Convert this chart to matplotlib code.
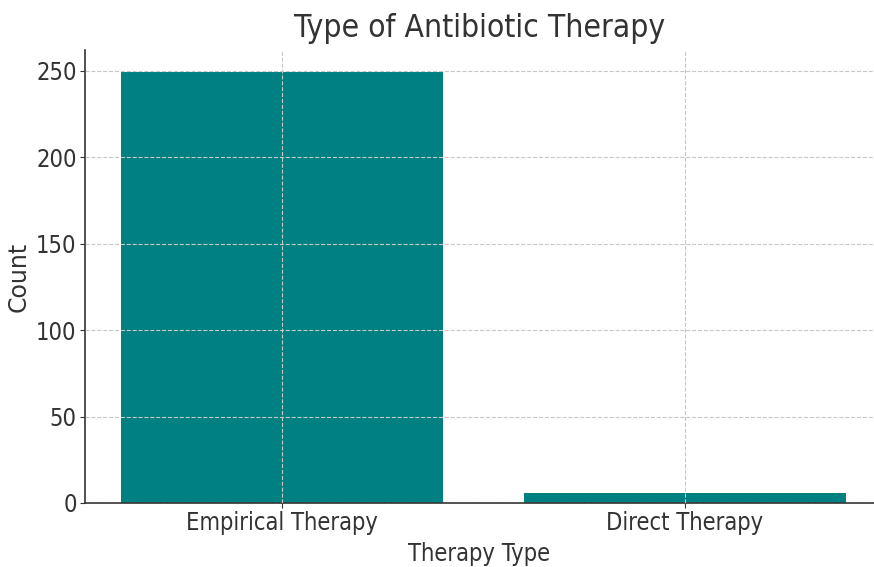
import matplotlib.pyplot as plt

# Data
therapy_types = ["Empirical Therapy", "Direct Therapy"]
counts = [249, 6]

plt.rcParams['font.family'] = ['DejaVu Sans']
plt.rcParams['font.stretch'] = 'condensed'
plt.rcParams['text.color'] = '#333333'
plt.rcParams['axes.labelcolor'] = '#333333'
plt.rcParams['xtick.color'] = '#333333'
plt.rcParams['ytick.color'] = '#333333'

fig = plt.figure(figsize=(8.74, 5.67), dpi=100)
W, H = 874, 567
ax = fig.add_axes([85 / W, (H - 503) / H, (874 - 85) / W, (503 - 50) / H])

ax.bar(therapy_types, counts, color='#008080', width=0.8, zorder=2)
ax.set_xlim(-0.489, 1.469)
ax.set_ylim(0, 262)

ax.set_title("Type of Antibiotic Therapy", fontsize=22.8, pad=9)
ax.set_xlabel("Therapy Type", fontsize=17, labelpad=5)
ax.set_ylabel("Count", fontsize=17, fontstretch='normal', labelpad=4)
ax.tick_params(axis='both', labelsize=17, length=3.5, pad=2.5)

ax.grid(True, linestyle='--', color='#c8c8c8', linewidth=0.8, zorder=3)
ax.set_axisbelow(False)
for s in ['top', 'right']:
    ax.spines[s].set_visible(False)
for s in ['left', 'bottom']:
    ax.spines[s].set_color('#333333')
    ax.spines[s].set_linewidth(1.2)

fig.savefig("out.png", dpi=100)
